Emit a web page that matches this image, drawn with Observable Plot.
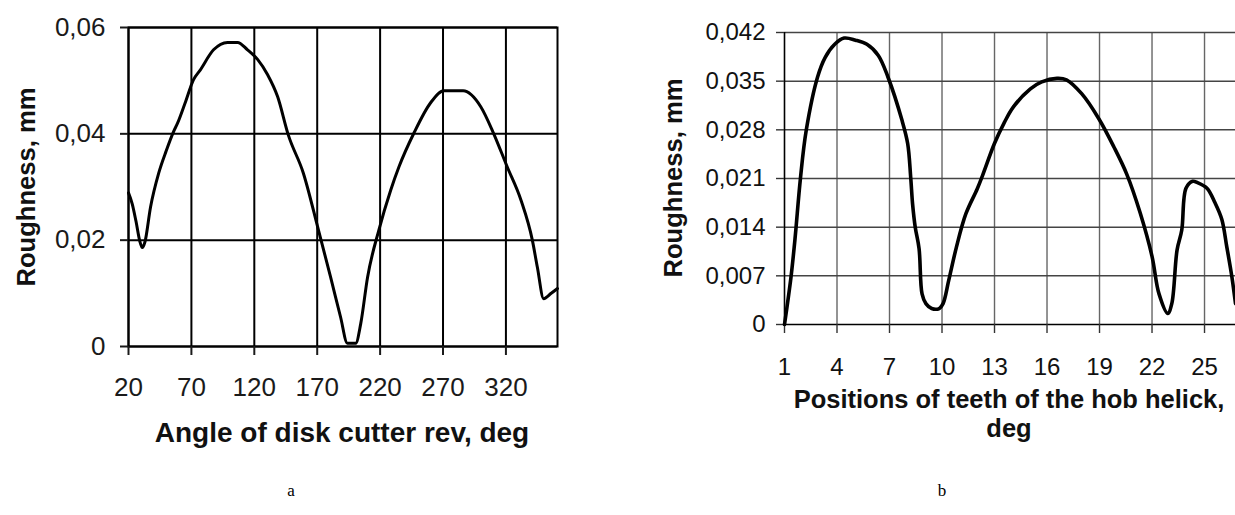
<!DOCTYPE html>
<html>
<head>
<meta charset="utf-8">
<script src="https://cdn.jsdelivr.net/npm/d3@7"></script>
<script src="https://cdn.jsdelivr.net/npm/@observablehq/plot@0.6"></script>
<style>
  html, body { margin: 0; padding: 0; background: #fff; }
  #wrap { position: relative; width: 1235px; height: 515px; overflow: hidden; background: #fff;
          font-family: "Liberation Sans", Arial, sans-serif; }
  .abs { position: absolute; white-space: nowrap; }
  .ttl { font-weight: bold; color: #111; line-height: 1; }
  .rot { transform: translate(-50%, -50%) rotate(-90deg); }
  .cap { font-family: "Liberation Serif", "Times New Roman", serif; font-size: 17px; color: #000;
         transform: translate(-50%, -50%); line-height: 1; }
</style>
</head>
<body>
<div id="wrap"></div>
<script>
// ---------- Chart a: roughness vs angle of disk cutter revolution ----------
const angleA = [20, 23, 26, 29, 31, 33, 37.5, 44, 50, 56, 59, 65, 71.7, 77, 87.6, 98.7, 106.7, 114.6, 122.6, 130.6, 138.5, 147,
                159, 171, 180.7, 188.6, 194, 200.6, 204.6, 210, 219, 228.4, 235, 247, 260, 270.6, 286, 300, 310, 321, 332, 341, 345, 350, 356, 361];
const roughA = [0.0289, 0.0268, 0.0235, 0.0198, 0.0186, 0.0196, 0.0262, 0.0326, 0.0368, 0.0405, 0.042, 0.0458, 0.0502, 0.052, 0.0558, 0.0572, 0.0572, 0.0558, 0.054, 0.0511, 0.047, 0.0398,
                0.0326, 0.0219, 0.013, 0.0055, 0.0006, 0.0006, 0.0043, 0.013, 0.0219, 0.0294, 0.0338, 0.0402, 0.0458, 0.0481, 0.0481, 0.0451, 0.0402, 0.0338, 0.0275, 0.020, 0.0149, 0.009, 0.0100, 0.0109];
const xTicksA = [20, 70, 120, 170, 220, 270, 320];
const yTicksA = [0, 0.02, 0.04, 0.06];
const xTitleA = "Angle of disk cutter rev, deg";
const yTitleA = "Roughness, mm";
const captionA = "a";

// ---------- Chart b: roughness vs positions of teeth of the hob ----------
const posB = [1, 1.37, 1.6, 1.91, 2.24, 2.89, 3.32, 3.87, 4.41, 5.06, 5.71, 6.36, 6.91, 7.71, 8.04, 8.21, 8.32, 8.47, 8.69, 8.86, 9.08, 9.41, 9.84,
              10.06, 10.38, 10.82, 11.36, 12.01, 12.34, 12.99, 13.53, 14.08, 15.05, 15.7, 16.57, 17.11, 17.98, 18.96, 19.83, 20.56, 21.33, 22.0,
              22.4, 22.9, 23.13, 23.43, 23.7, 23.94, 24.32, 24.6, 25.14, 25.6, 25.99, 26.27, 26.56, 26.77];
const roughB = [0, 0.0068, 0.0123, 0.021, 0.0279, 0.0356, 0.0384, 0.0403, 0.0412, 0.0409, 0.0403, 0.0387, 0.0356, 0.0294, 0.026, 0.0212, 0.0173, 0.014, 0.0109, 0.0044, 0.003, 0.0023, 0.0023,
                0.003, 0.0063, 0.0111, 0.0159, 0.0195, 0.0216, 0.026, 0.0289, 0.0313, 0.0339, 0.0349, 0.0354, 0.0352, 0.0332, 0.0296, 0.0255, 0.0216, 0.016, 0.0098,
                0.0044, 0.0016, 0.003, 0.0107, 0.0136, 0.0196, 0.0206, 0.0204, 0.0196, 0.0175, 0.0151, 0.0112, 0.0069, 0.003];
const xTicksB = [1, 4, 7, 10, 13, 16, 19, 22, 25];
const yTicksB = [0, 0.007, 0.014, 0.021, 0.028, 0.035, 0.042];
const xTitleB = ["Positions of teeth of the hob helick,", "deg"];
const yTitleB = "Roughness, mm";
const captionB = "b";

const fmt = d => d === 0 ? "0" : String(d).replace(".", ",");
const wrap = document.getElementById("wrap");

function place(node, left, top) {
  node.style.position = "absolute";
  node.style.left = left + "px";
  node.style.top = top + "px";
  wrap.appendChild(node);
}
function addDiv(cls, text, css) {
  const d = document.createElement("div");
  d.className = "abs " + cls;
  if (Array.isArray(text)) {
    text.forEach((t, i) => { if (i) d.appendChild(document.createElement("br")); d.appendChild(document.createTextNode(t)); });
  } else d.textContent = text;
  Object.assign(d.style, css);
  wrap.appendChild(d);
  return d;
}

// ---- chart a ----
const dataA = angleA.map((x, i) => ({x, y: roughA[i]}));
const plotA = Plot.plot({
  width: 600, height: 460,
  marginLeft: 128, marginRight: 43, marginTop: 27, marginBottom: 114,
  x: {domain: [20, 361]},
  y: {domain: [0, 0.06]},
  style: {fontFamily: "'Liberation Sans', Arial, sans-serif", color: "#1a1a1a", background: "transparent", overflow: "visible"},
  marks: [
    Plot.gridX(xTicksA, {stroke: "#000", strokeOpacity: 1, strokeWidth: 2}),
    Plot.gridY(yTicksA, {stroke: "#000", strokeOpacity: 1, strokeWidth: 2}),
    Plot.frame({stroke: "#000", strokeWidth: 2}),
    Plot.axisX(xTicksA, {tickSize: 9, tickPadding: 22, fontSize: 26, label: null, strokeWidth: 2, tickFormat: d => String(d)}),
    Plot.axisY(yTicksA, {tickSize: 8, tickPadding: 15, fontSize: 26, label: null, strokeWidth: 2, tickFormat: fmt}),
    Plot.line(dataA, {x: "x", y: "y", stroke: "#000", strokeWidth: 3, curve: "monotone-x", strokeLinejoin: "round"})
  ]
});
place(plotA, 0, 0);

// ---- chart b ----
const dataB = posB.map((x, i) => ({x, y: roughB[i]}));
const plotB = Plot.plot({
  width: 615, height: 460,
  marginLeft: 164, marginRight: 0, marginTop: 32, marginBottom: 136,
  x: {domain: [1, 26.77]},
  y: {domain: [0, 0.042]},
  style: {fontFamily: "'Liberation Sans', Arial, sans-serif", color: "#111", background: "transparent", overflow: "visible"},
  marks: [
    Plot.gridX(xTicksB.filter(d => d > 1), {stroke: "#666", strokeOpacity: 1, strokeWidth: 1.4}),
    Plot.gridY(yTicksB.filter(d => d > 0), {stroke: "#444", strokeOpacity: 1, strokeWidth: 1.5}),
    Plot.ruleX([1], {stroke: "#000", strokeWidth: 1.6}),
    Plot.ruleY([0], {stroke: "#000", strokeWidth: 1.6}),
    Plot.axisX(xTicksB, {tickSize: 9, tickPadding: 24, fontSize: 24, label: null, stroke: "#333", strokeWidth: 1.4, tickFormat: d => String(d)}),
    Plot.axisY(yTicksB, {tickSize: 8, tickPadding: 11, fontSize: 24, label: null, stroke: "#333", strokeWidth: 1.4, tickFormat: fmt}),
    Plot.line(dataB, {x: "x", y: "y", stroke: "#000", strokeWidth: 3.6, curve: "catmull-rom", strokeLinejoin: "round"})
  ]
});
place(plotB, 620, 0);

// ---- titles and captions ----
addDiv("ttl rot", yTitleA, {left: "27px", top: "187px", fontSize: "25.6px"});
addDiv("ttl", xTitleA, {left: "342px", top: "419px", fontSize: "28px", transform: "translateX(-50%)"});
addDiv("ttl rot", yTitleB, {left: "674px", top: "178px", fontSize: "25.6px"});
addDiv("ttl", xTitleB, {left: "1009px", top: "385px", fontSize: "25.5px", lineHeight: "29px", textAlign: "center", transform: "translateX(-50%)"});
addDiv("cap", captionA, {left: "291px", top: "490px"});
addDiv("cap", captionB, {left: "942px", top: "490px"});
</script>
</body>
</html>
